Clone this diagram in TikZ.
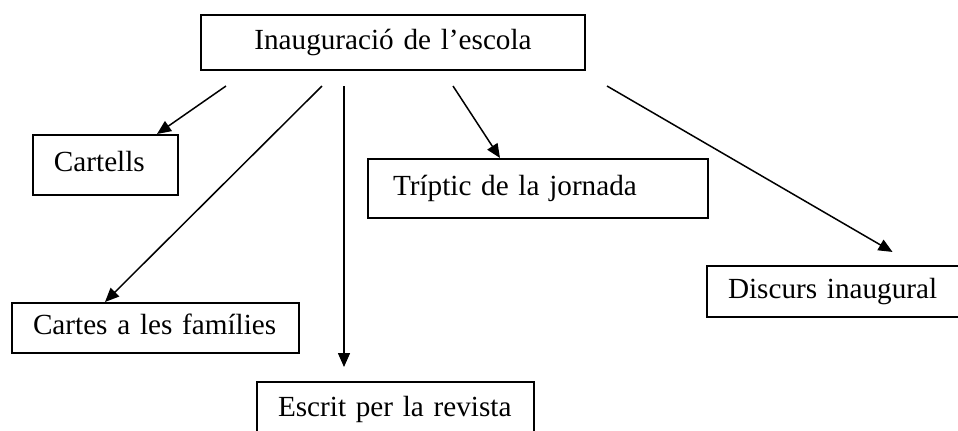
\documentclass[tikz,border=0pt]{standalone}
\usepackage{fontspec}
\setmainfont{Liberation Serif}
\usetikzlibrary{arrows.meta,calc}

\begin{document}
\begin{tikzpicture}[x=0.5pt,y=-0.5pt,
    caixa/.style={draw, line width=1pt, anchor=north west, align=left,
        inner xsep=10.5pt, inner ysep=0pt, text height=.662em, text depth=0pt},
    fletxa/.style={line width=.75pt, -{Triangle[length=7pt,width=6pt]}}]
    \useasboundingbox (0,0) rectangle (958,430);
    \begin{scope}[font=\fontsize{14.6}{17}\selectfont]

    \node [caixa, align=center, text width=171pt, minimum height=27.5pt] (inici) at (200,14) {Inauguració de l’escola};

    \node [caixa, text width=51.5pt,  minimum height=30pt]   (cartells) at (32,134)  {Cartells};
    \node [caixa, text width=122.5pt, minimum height=25pt]   (cartes)   at (11,302)  {Cartes a les famílies};
    \node [caixa, text width=145pt, inner xsep=12.5pt, minimum height=29.5pt] (triptic) at (367,158) {Tríptic de la jornada};
    \node [caixa, text width=150pt, minimum height=25.5pt]   (discurs)  at (706,265) {Discurs inaugural};
    \node [caixa, text width=117.5pt, minimum height=27.5pt] (escrit)   at (256,381) {Escrit per la revista};

    % punts de sortida sota el titol
    \coordinate (s1) at (226,86);
    \coordinate (s2) at (322,86);
    \coordinate (s3) at (344,86);
    \coordinate (s4) at (453,86);
    \coordinate (s5) at (607,86);

    \draw [fletxa] (s1) -- ($(cartells.north west)+(125,0)$);
    \draw [fletxa] (s2) -- ($(cartes.north west)+(94,0)$);
    \draw [fletxa, shorten >=7pt] (s3) -- ($(escrit.north west)+(88,0)$);
    \draw [fletxa] (s4) -- ($(triptic.north west)+(133,0)$);
    \draw [fletxa, shorten >=13pt] (s5) -- ($(discurs.north west)+(209,0)$);
\end{scope}
\end{tikzpicture}
\end{document}
